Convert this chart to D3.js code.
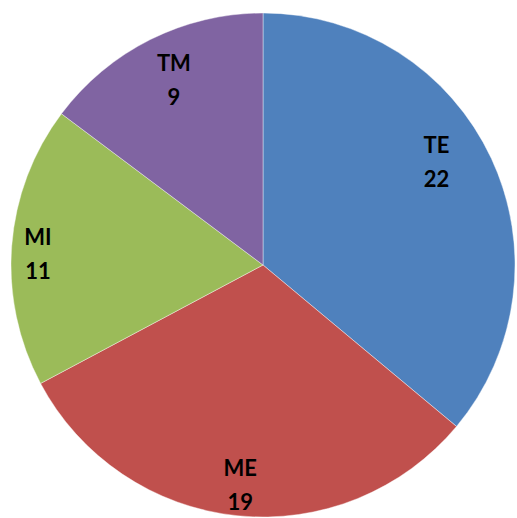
<!DOCTYPE html>
<html>
<head>
<meta charset="utf-8">
<script src="https://cdn.jsdelivr.net/npm/d3@7/dist/d3.min.js"></script>
<style>
  html, body { margin: 0; padding: 0; background: #ffffff; }
  svg { display: block; }
</style>
</head>
<body>
<svg id="chart" width="517" height="518"></svg>
<script>
// Slice data, in drawing order (clockwise from 12 o'clock)
const categories = ["TE", "ME", "MI", "TM"];
const values = [22, 19, 11, 9];

// Slice fills
const colors = ["#4F81BD", "#C0504D", "#9BBB59", "#8064A2"];

// Label placement: position along each slice's sweep (0 = start, 1 = end)
// and distance from the centre as a fraction of the radius
const labelSweepFrac = [0.457, 0.50, 0.475, 0.516];
const labelRadiusFrac = [0.80, 0.878, 0.894, 0.815];

const width = 517, height = 518;
const cx = 263, cy = 265, radius = 252;

const svg = d3.select("#chart");
const g = svg.append("g").attr("transform", `translate(${cx},${cy})`);

const data = categories.map((c, i) => ({ category: c, value: values[i], index: i }));

const pie = d3.pie()
  .value(d => d.value)
  .sort(null)
  .startAngle(0)
  .endAngle(2 * Math.PI);

const arc = d3.arc().innerRadius(0).outerRadius(radius);
const color = d3.scaleOrdinal().domain(categories).range(colors);

const arcs = pie(data);

g.selectAll("path.slice")
  .data(arcs)
  .join("path")
  .attr("class", "slice")
  .attr("d", arc)
  .attr("fill", d => color(d.data.category))
  .attr("stroke", "rgba(255,255,255,0.5)")
  .attr("stroke-width", 0.8);

const fontSize = 22;
const lineGap = 34;

const labels = g.selectAll("text.label")
  .data(arcs)
  .join("text")
  .attr("class", "label")
  .attr("text-anchor", "middle")
  .attr("font-family", "Lato, 'Open Sans', sans-serif")
  .attr("font-weight", "bold")
  .attr("font-size", fontSize)
  .attr("fill", "#000000")
  .attr("transform", d => {
    const i = d.data.index;
    const a = d.startAngle + (d.endAngle - d.startAngle) * labelSweepFrac[i];
    const r = radius * labelRadiusFrac[i];
    const x = Math.sin(a) * r;
    const y = -Math.cos(a) * r;
    return `translate(${x},${y})`;
  });

const capShift = fontSize * 0.36;
labels.append("tspan")
  .attr("x", 0)
  .attr("y", -lineGap / 2 + capShift)
  .text(d => d.data.category);
labels.append("tspan")
  .attr("x", 0)
  .attr("y", lineGap / 2 + capShift)
  .text(d => d.data.value);
</script>
</body>
</html>
